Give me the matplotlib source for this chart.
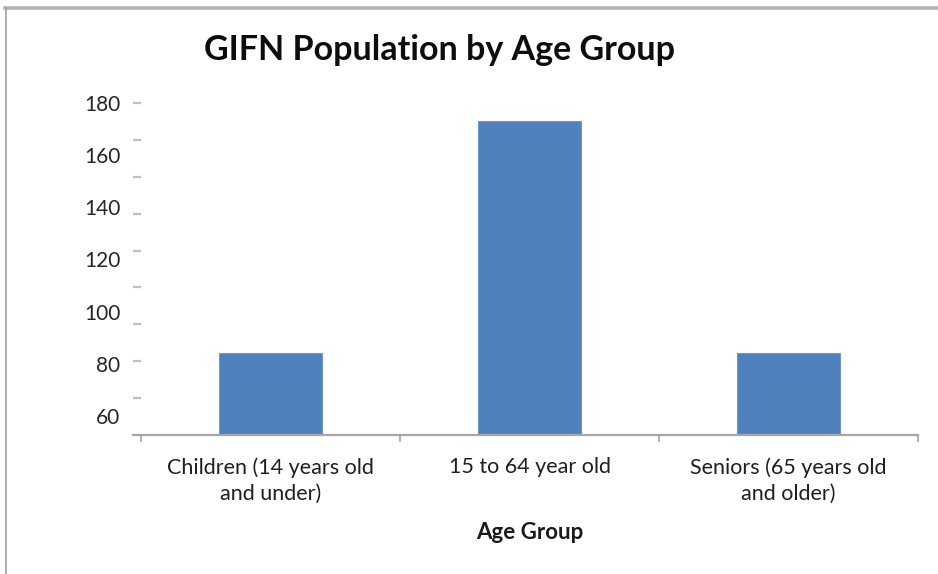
import numpy as np
import matplotlib
matplotlib.use("Agg")
import matplotlib.pyplot as plt
from matplotlib.lines import Line2D

# data
categories = ["Children (14 years old\nand under)", "15 to 64 year old", "Seniors (65 years old\nand older)"]
population = [84.3, 173.1, 84.3]
ytick_values = [60, 80, 100, 120, 140, 160, 180]

plt.rcParams['font.family'] = ['Lato', 'DejaVu Sans']

fig = plt.figure(figsize=(9.38, 5.74), dpi=100)
ax = fig.add_axes([0.1503, 0.2422, 0.8284, 0.5784])

x = np.arange(len(categories))
ax.bar(x, population, width=0.4, color='#4F81BD', edgecolor='#6E96C8', linewidth=0.8, zorder=2)

ybot, ytop = 52.7, 180
ax.set_ylim(ybot, ytop)
ax.set_xlim(-0.5, 2.5)

# y labels (no marks) plus the evenly spaced tick marks of the original
ax.set_yticks(ytick_values)
ax.set_yticklabels([str(v) for v in ytick_values], fontsize=15, color='#262626')
ax.tick_params(axis='y', which='major', length=0, pad=15)
ax.yaxis.remove_overlapping_locs = False
ax.set_yticks(np.linspace(ybot, ytop, 10)[1:], minor=True)
ax.tick_params(axis='y', which='minor', length=5.5, width=1.6, color='#bfbfbf', direction='out')

# x axis: category labels centered, marks at category boundaries
ax.set_xticks(x)
ax.set_xticklabels(categories, fontsize=15.5, color='#1f1f1f', linespacing=1.4)
ax.tick_params(axis='x', which='major', length=0, pad=16)
ax.set_xticks([-0.5, 0.5, 1.5, 2.5], minor=True)
ax.tick_params(axis='x', which='minor', length=5, width=1.2, color='#a6a6a6', direction='out')

for side in ['top', 'right', 'left']:
    ax.spines[side].set_visible(False)
ax.spines['bottom'].set_color('#a6a6a6')
ax.spines['bottom'].set_linewidth(1.6)
ax.spines['bottom'].set_zorder(3)
ax.spines['bottom'].set_bounds(-0.53, 2.5)

ax.set_xlabel("Age Group", fontsize=16, fontweight='bold', color='#1a1a1a', labelpad=13)
fig.text(0.469, 0.913, "GIFN Population by Age Group", ha='center', va='center',
         fontsize=24.5, fontweight='bold', color='#0d0d0d')

# border of the chart area (screenshot frame)
fig.add_artist(Line2D([5 / 938, 1], [1 - 7.5 / 574, 1 - 7.5 / 574], transform=fig.transFigure,
                      color='#b4b4b4', linewidth=2.6))
fig.add_artist(Line2D([5.5 / 938, 5.5 / 938], [0, 1 - 7.5 / 574], transform=fig.transFigure,
                      color='#a0a0a0', linewidth=1.2))

fig.savefig("out.png", dpi=100)
